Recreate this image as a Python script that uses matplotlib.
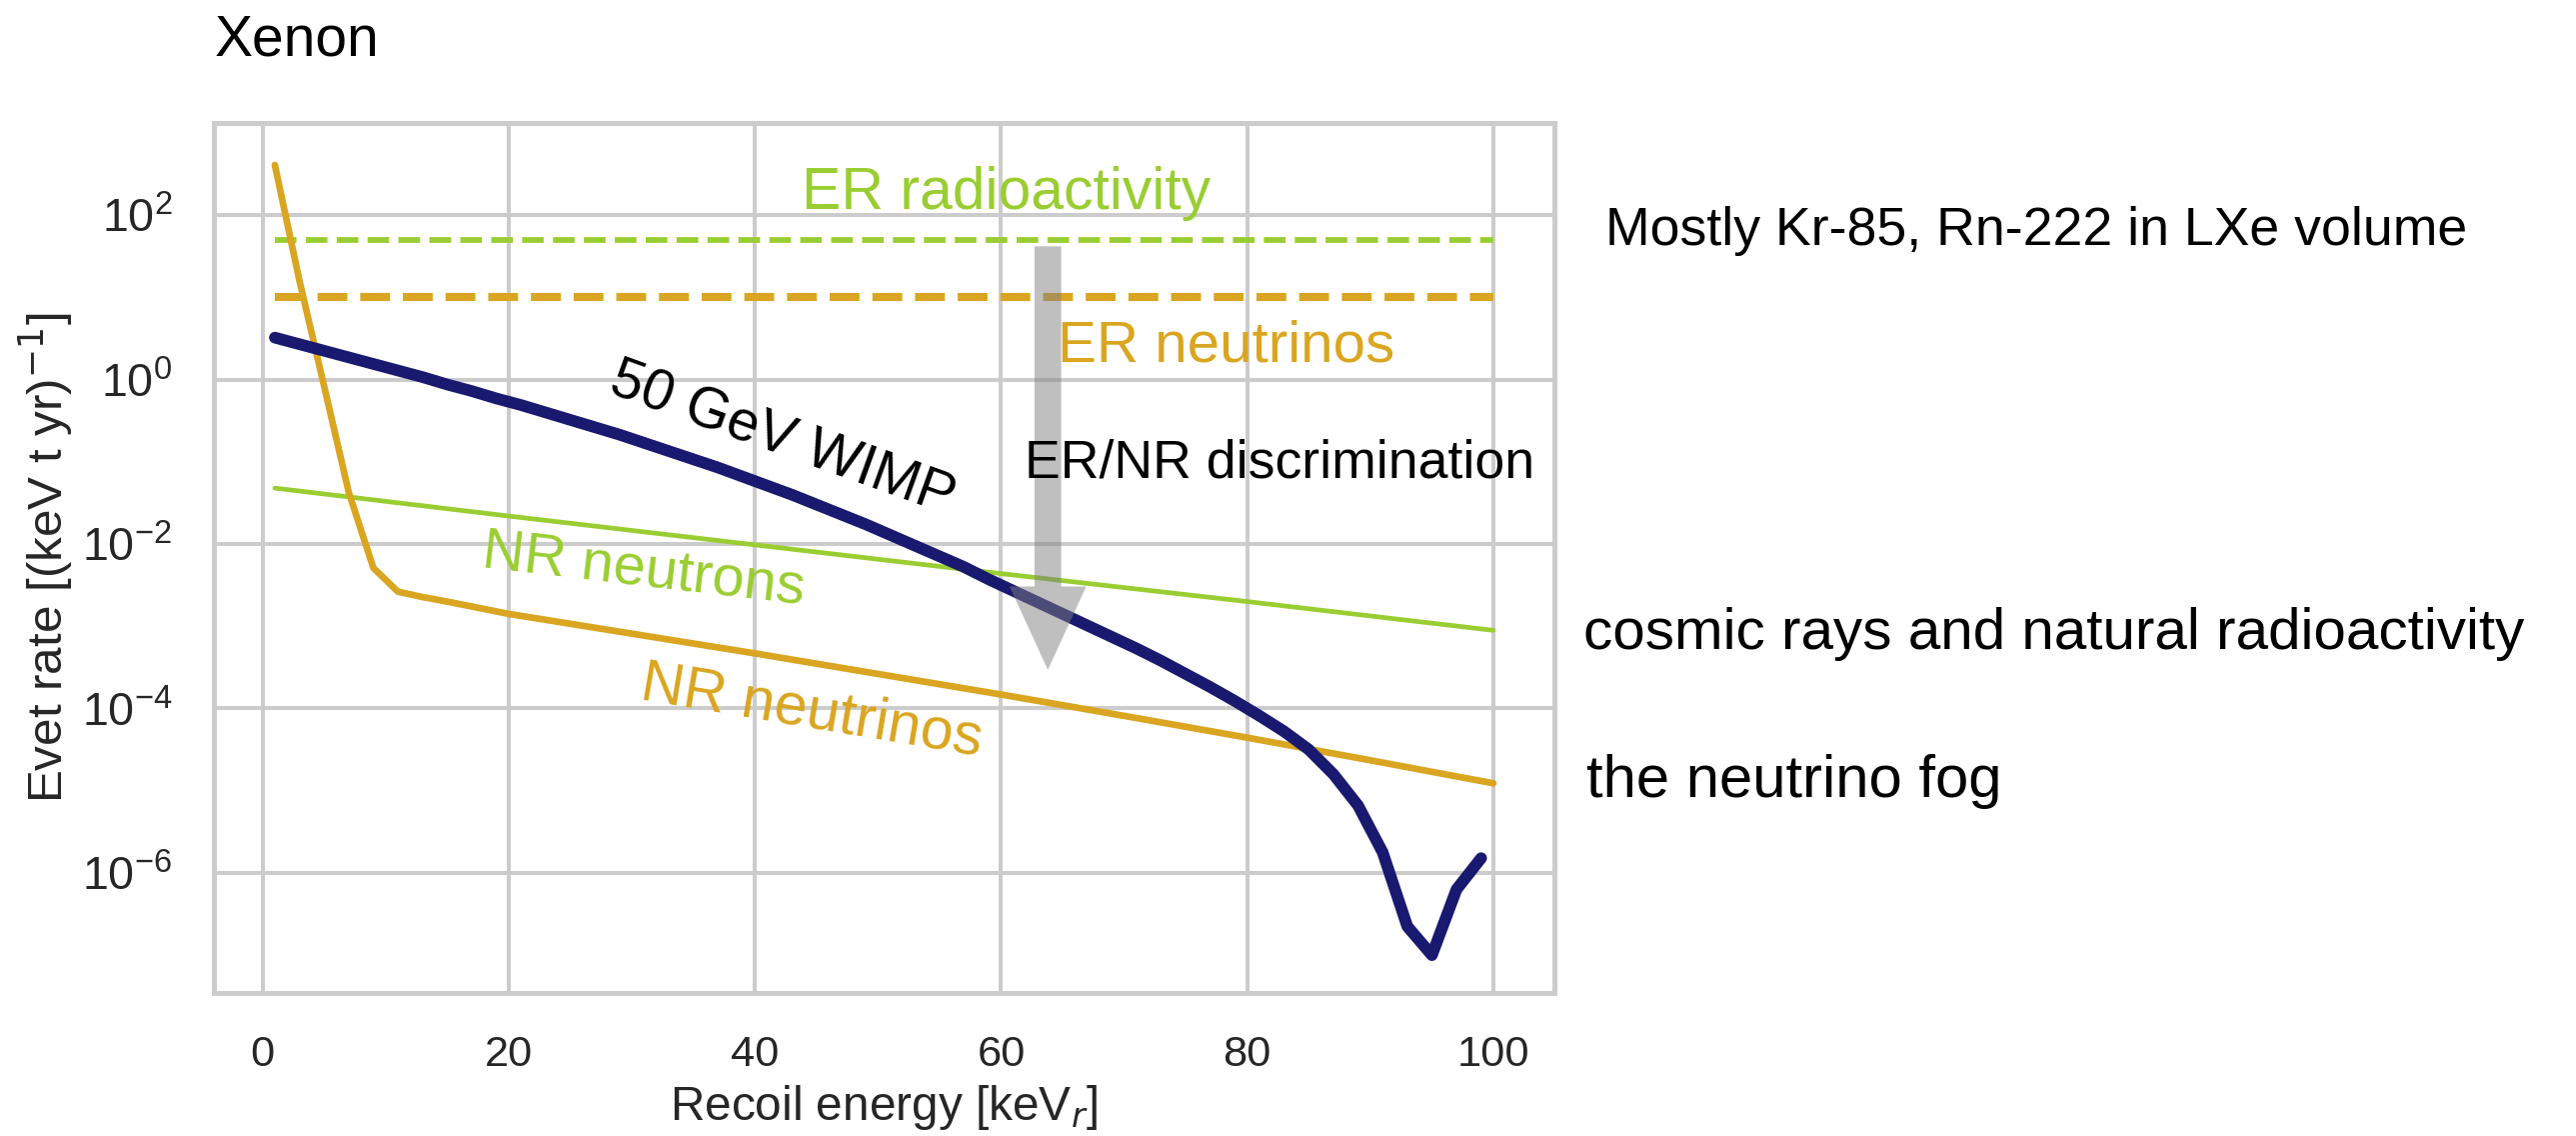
import numpy as np
import matplotlib.pyplot as plt
import seaborn as sns

sns.set_style('whitegrid')
plt.rcParams['font.family'] = ['Liberation Sans', 'DejaVu Sans']

W, H, DPI = 2577, 1136, 200

# Recoil energies (keVr) of the sampled spectra
energy_wimp = np.arange(1, 100, 2)

# log10 of event rate
wimp_log10 = [0.51, 0.43, 0.35, 0.27, 0.19, 0.11, 0.03, -0.06, -0.14, -0.23,
              -0.31, -0.40, -0.49, -0.58, -0.67, -0.77, -0.87, -0.97, -1.07, -1.18,
              -1.29, -1.40, -1.52, -1.64, -1.76, -1.89, -2.02, -2.15, -2.28, -2.43,
              -2.57, -2.71, -2.85, -2.99, -3.13, -3.27, -3.42, -3.58, -3.74, -3.91,
              -4.09, -4.28, -4.50, -4.80, -5.18, -5.75, -6.65, -7.00, -6.20, -5.82]

energy_nr_nu = [1, 3, 5, 7, 9, 11, 13, 15, 20, 30, 40, 50, 60, 70, 80, 90, 100]
nr_nu_log10 = [2.61, 1.20, -0.08, -1.37, -2.29, -2.58, -2.645, -2.70, -2.85,
               -3.09, -3.33, -3.58, -3.83, -4.09, -4.355, -4.63, -4.91]

energy_nr_n = [1, 20, 40, 60, 80, 100]
nr_n_log10 = [-1.32, -1.66, -2.01, -2.36, -2.70, -3.05]

energy_er = [1, 100]
er_radio_rate = [50, 50]
er_nu_rate = [10, 10]

# ER/NR discrimination arrow (energy, log10 start, log10 end)
arrow_x = 63.8
arrow_from, arrow_to = 1.62, -3.53

navy = 'midnightblue'
gold = 'goldenrod'
green = 'yellowgreen'

fig = plt.figure(figsize=(W / DPI, H / DPI), dpi=DPI)
ax = fig.add_axes([214 / W, 1 - 993 / H, (1555 - 214) / W, (993 - 123) / H])

ax.plot(energy_er, er_radio_rate, color=green, lw=2.1, ls='--')
ax.plot(energy_er, er_nu_rate, color=gold, lw=2.9, ls='--')
ax.plot(energy_nr_n, np.power(10.0, nr_n_log10), color=green, lw=1.7,
        solid_capstyle='round')
ax.plot(energy_nr_nu, np.power(10.0, nr_nu_log10), color=gold, lw=2.4,
        solid_capstyle='round', solid_joinstyle='round')
ax.plot(energy_wimp, np.power(10.0, wimp_log10), color=navy, lw=4.2,
        solid_capstyle='round', solid_joinstyle='round')

# gray arrow on top
ax.annotate('', xy=(arrow_x, 10 ** arrow_to), xytext=(arrow_x, 10 ** arrow_from),
            arrowprops=dict(arrowstyle='simple,head_length=1.0,head_width=0.92,tail_width=0.32',
                            mutation_scale=30, color='gray', alpha=0.5, lw=0,
                            shrinkA=0, shrinkB=0))

ax.set_yscale('log')
ax.set_xlim(-3.95, 104.95)
ax.set_ylim(10 ** -7.46, 10 ** 3.12)
ax.set_yticks([1e-6, 1e-4, 1e-2, 1e0, 1e2])
ax.minorticks_off()
ax.set_xticks([0, 20, 40, 60, 80, 100])

ax.grid(True, color='.8', lw=1.45)
for s in ax.spines.values():
    s.set_color('.8')
    s.set_linewidth(1.8)
ax.tick_params(axis='x', which='both', length=0, pad=15, labelsize=15.6, labelcolor='.15')
ax.tick_params(axis='y', which='both', length=0, pad=15, labelsize=16.8, labelcolor='.15')

ax.set_xlabel('Recoil energy [keV$_r$]', fontsize=17.2, color='.15', labelpad=3)
ax.set_ylabel('Evet rate [(keV t yr)$^{-1}$]', fontsize=17.8, color='.15', labelpad=2)

# curve labels
ax.text(43.8, 10 ** 2.077, 'ER radioactivity', color=green, fontsize=21.2)
ax.text(64.6, 10 ** 0.218, 'ER neutrinos', color=gold, fontsize=21)
ax.text(61.9, 10 ** -1.185, 'ER/NR discrimination', color='black', fontsize=19.3)
ax.text(42.2, 10 ** -0.734, '50 GeV WIMP', color='black', fontsize=20.4,
        rotation=-19.8, rotation_mode='anchor', ha='center', va='center')
ax.text(31.0, 10 ** -2.32, 'NR neutrons', color=green, fontsize=20.8,
        rotation=-6.6, rotation_mode='anchor', ha='center', va='center')
ax.text(44.6, 10 ** -4.04, 'NR neutrinos', color=gold, fontsize=21.3,
        rotation=-9.5, rotation_mode='anchor', ha='center', va='center')

# title and side notes
fig.text(215 / W, 1 - 55 / H, 'Xenon', fontsize=20.5, color='black', va='baseline')
fig.text(1606 / W, 1 - 245 / H, 'Mostly Kr-85, Rn-222 in LXe volume', fontsize=19.3,
         color='black', va='baseline')
fig.text(1584 / W, 1 - 649 / H, 'cosmic rays and natural radioactivity', fontsize=21,
         color='black', va='baseline')
fig.text(1587 / W, 1 - 797 / H, 'the neutrino fog', fontsize=21.5, color='black', va='baseline')

fig.savefig('out.png', dpi=DPI, facecolor='white')
